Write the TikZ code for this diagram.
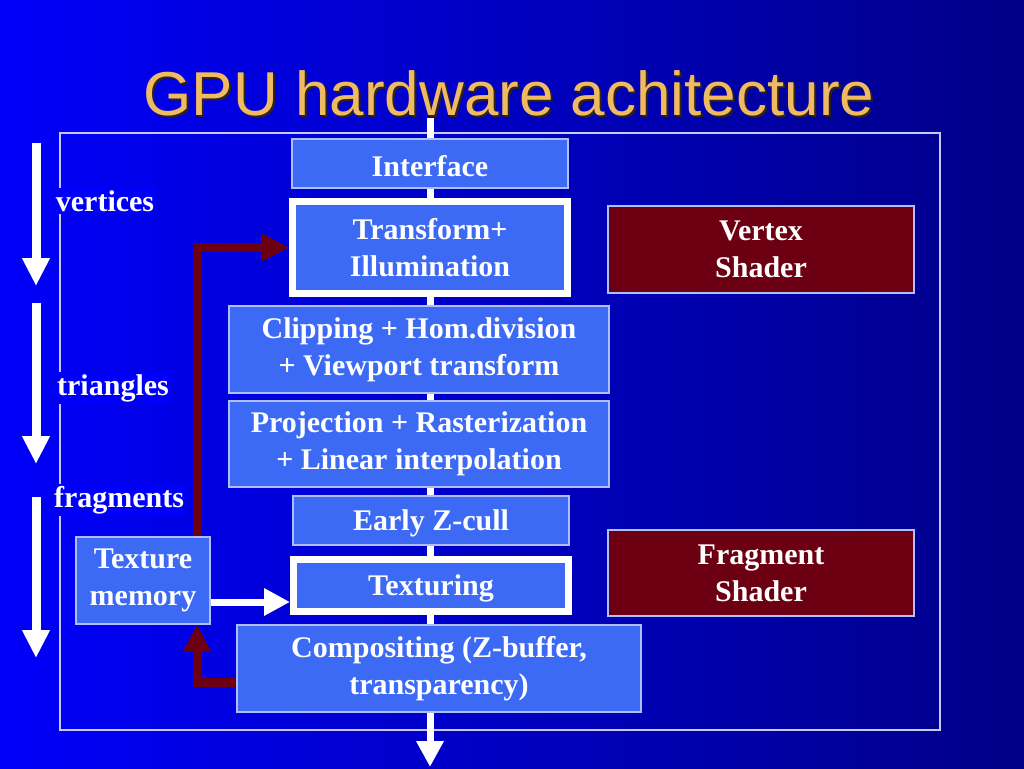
\documentclass[tikz,border=0pt]{standalone}
\usepackage{fontspec}
\setmainfont{Liberation Serif}
\newfontfamily\titlefont{Liberation Sans}
\usetikzlibrary{arrows.meta}
\usetikzlibrary{positioning}

\definecolor{slidebg}{RGB}{0,0,250}
\definecolor{slidebgdark}{RGB}{0,0,135}
\definecolor{stagefill}{RGB}{60,106,245}
\definecolor{stageline}{RGB}{175,190,255}
\definecolor{shaderfill}{RGB}{108,0,18}
\definecolor{titlecol}{RGB}{240,186,98}
\definecolor{framecol}{RGB}{200,200,255}

\begin{document}
\begin{tikzpicture}[x=1pt,y=-1pt,
    stage/.style={draw=stageline,fill=stagefill,text=white,font=\fontsize{30}{37}\selectfont\bfseries,
      align=center,inner sep=0pt,line width=1.2pt},
    one line/.style={text height=26pt},
    hilite/.style={stage,draw=white,line width=7pt},
    shader/.style={stage,fill=shaderfill},
    side label/.style={text=white,font=\fontsize{30}{37}\selectfont\bfseries,fill=slidebg,inner sep=2pt},
    flow/.style={white,line width=7pt,-{Triangle[width=26pt,length=26pt]}},
    down/.style={white,line width=9pt,-{Triangle[width=26pt,length=28pt]}},
    feedback/.style={shaderfill,line width=9pt,-{Triangle[width=26pt,length=27pt]}}]
    % background and frame
    \shade[left color=slidebg,right color=slidebgdark] (0,0) rectangle (1024,768);
    \useasboundingbox (0,0) rectangle (1024,768);
    \draw[framecol,line width=1.2pt] (60,133) rectangle (940,730);

    \node[titlecol!20!black,font=\titlefont\fontsize{62}{62}\selectfont,anchor=base] at (511,117) {GPU hardware achitecture};
    \node[titlecol,font=\titlefont\fontsize{62}{62}\selectfont,anchor=base] (title) at (509,115) {GPU hardware achitecture};

    % the pipeline line
    \coordinate (in) at (430,118);
    \coordinate (out) at (430,767);
    \draw[flow] (in) -- (out);

    \node[stage,one line,minimum width=276,minimum height=49] (iface) at (430,163.5) {Interface};
    \node[hilite,minimum width=275,minimum height=92] (tl) at (430,247.5) {Transform+\\Illumination};
    \node[stage,minimum width=380,minimum height=87] (clip) at (419,349.5) {Clipping + Hom.division\\+ Viewport transform};
    \node[stage,minimum width=380,minimum height=86] (proj) at (419,444) {Projection + Rasterization\\+ Linear interpolation};
    \node[stage,one line,minimum width=276,minimum height=49] (zcull) at (431,520.5) {Early Z-cull};
    \node[hilite,one line,minimum width=275,minimum height=52] (tex) at (431,585.5) {Texturing};
    \node[stage,minimum width=404,minimum height=87] (comp) at (439,668.5) {Compositing (Z-buffer,\\transparency)};

    \node[shader,minimum width=306,minimum height=87] (vs) at (761,249.5) {Vertex\\Shader};
    \node[shader,minimum width=306,minimum height=86] (fs) at (761,573) {Fragment\\Shader};

    \node[stage,minimum width=134,minimum height=87] (tmem) at (143,580.5) {Texture\\memory};

    % left side arrows
    \coordinate (v1) at (36,143);
    \coordinate (v2) at (36,286);
    \coordinate (t1) at (36,303);
    \coordinate (t2) at (36,464);
    \coordinate (f1) at (36,497);
    \coordinate (f2) at (36,658);
    \draw[down] (v1) -- (v2);
    \draw[down] (t1) -- (t2);
    \draw[down] (f1) -- (f2);

    \node[side label] (vert) at (105,201) {vertices};
    \node[side label] (tri) at (113,388) {triangles};
    \node[side label] (frag) at (119,500) {fragments};

    % texture memory connections
    \coordinate (rx) at (197,0);
    \draw[feedback] (tmem.north -| rx) |- (tl.west);
    \draw[feedback] ([yshift=-14pt]comp.west) -| (rx |- tmem.south);
    \coordinate (tmout) at ([yshift=-21.5pt]tmem.east);
    \draw[flow] (tmout) -- (tmout -| tex.west);
  \end{tikzpicture}
\end{document}
